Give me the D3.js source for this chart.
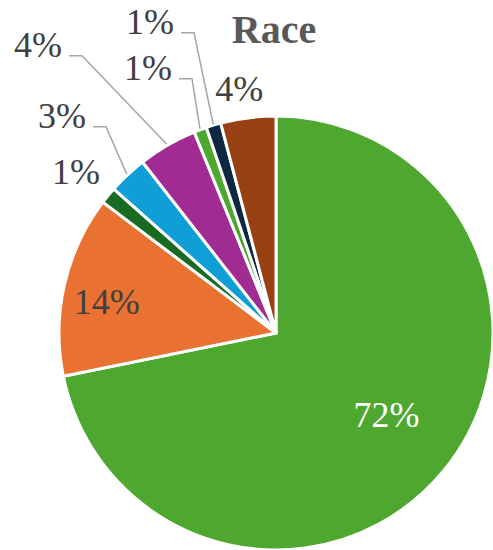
<!DOCTYPE html>
<html>
<head>
<meta charset="utf-8">
<script src="https://cdn.jsdelivr.net/npm/d3@7"></script>
<style>
  body { margin: 0; background: #fff; }
  svg { display: block; }
  text { font-family: "Liberation Serif", "Times New Roman", Times, serif; }
</style>
</head>
<body>
<div id="chart"></div>
<script>
// Slice shares (percent), clockwise from 12 o'clock
const categories = ["A", "B", "C", "D", "E", "F", "G", "H"];
const shares = [71.8, 13.5, 1.25, 2.9, 4.4, 0.95, 1.1, 4.1];
const labels = ["72%", "14%", "1%", "3%", "4%", "1%", "1%", "4%"];
const colors = ["#4EA72E", "#E97132", "#196B24", "#0F9ED5", "#A02B93", "#4EA72E", "#0E2841", "#974012"];

const width = 493, height = 550;
const cx = 276, cy = 333, radius = 217;

// label layout: r = fraction of radius along mid angle (+ small nudge),
// or a fixed offset from the centre with a leader line
const labelLayout = [
    { r: 0.64, nx: 3, ny: -6, fill: "#ffffff" },
    { r: 0.80, nx: 0, ny: 7 },
    { r: 1.18, nx: -2, ny: 1 },
    { dx: -214, dy: -217, leader: true },
    { dx: -238, dy: -288, leader: true },
    { dx: -128, dy: -265, leader: true },
    { dx: -126, dy: -311, leader: true },
    { r: 1.14, nx: -5, ny: 1 }
];

var svg = d3.select("#chart").append("svg")
    .attr("width", width)
    .attr("height", height);

svg.append("text")
    .attr("x", 274)
    .attr("y", 43)
    .attr("text-anchor", "middle")
    .style("font-weight", "bold")
    .style("font-size", "40px")
    .style("fill", "#595959")
    .text("Race");

var g = svg.append("g").attr("transform", "translate(" + cx + "," + cy + ")");

var pie = d3.pie().sort(null).value(function (d) { return d; });
var arcs = pie(shares);

var arc = d3.arc().innerRadius(0).outerRadius(radius);

g.selectAll(".slice")
    .data(arcs)
    .enter().append("path")
    .attr("class", "slice")
    .attr("d", arc)
    .style("fill", function (d, i) { return colors[i]; })
    .style("stroke", "#ffffff")
    .style("stroke-width", 3)
    .style("stroke-linejoin", "round");

function pointAt(d, r) {
    var a = (d.startAngle + d.endAngle) / 2;
    return [r * Math.sin(a), -r * Math.cos(a)];
}

const fontSize = 36;

arcs.forEach(function (d, i) {
    var lay = labelLayout[i];
    var x, y;
    if (lay.leader) {
        x = lay.dx; y = lay.dy;
    } else {
        var p = pointAt(d, radius * lay.r);
        x = p[0] + lay.nx; y = p[1] + lay.ny;
    }
    var t = g.append("text")
        .attr("x", x)
        .attr("y", y + fontSize * 0.34)
        .attr("text-anchor", "middle")
        .style("font-size", fontSize + "px")
        .style("fill", lay.fill || "#404040")
        .text(labels[i]);

    // leader line: short horizontal stub, then to the slice edge
    if (lay.leader) {
        var w = t.node().getComputedTextLength();
        var lx = x + w / 2 + 7;
        var ly = y + fontSize * 0.34 - 1.5;
        var end = pointAt(d, radius + 1);
        g.append("path")
            .attr("d", "M" + lx + "," + ly + "H" + (lx + 13) + "L" + end[0] + "," + end[1])
            .style("fill", "none")
            .style("stroke", "#A6A6A6")
            .style("stroke-width", 1.5);
    }
});
</script>
</body>
</html>
